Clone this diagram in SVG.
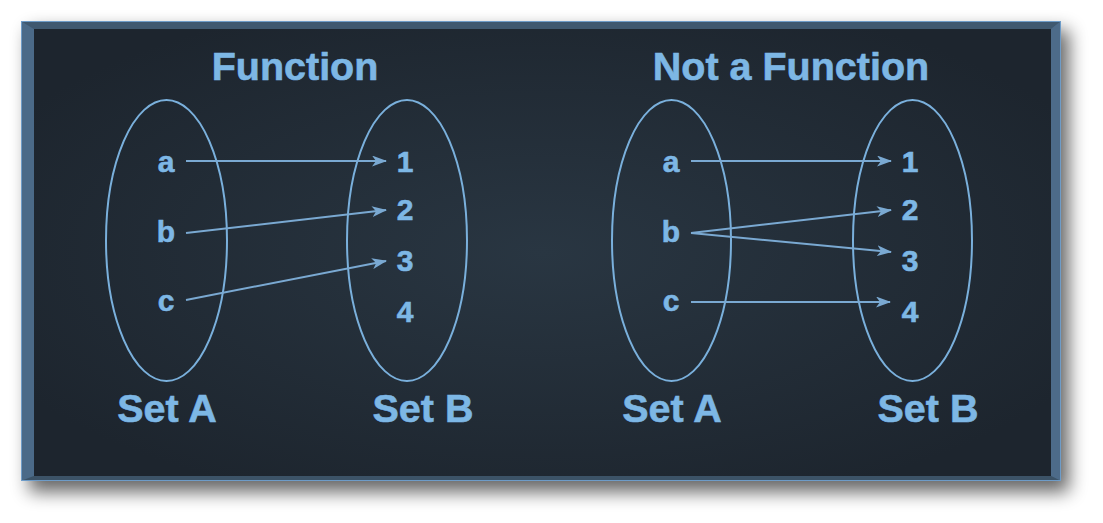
<svg xmlns="http://www.w3.org/2000/svg" width="1103" height="523" viewBox="0 0 1103 523">
<defs>
<radialGradient id="bg" cx="0.5" cy="0.5" r="0.6">
<stop offset="0" stop-color="#293642"/>
<stop offset="1" stop-color="#1d252e"/>
</radialGradient>
<filter id="sh" x="-10%" y="-20%" width="120%" height="140%">
<feGaussianBlur stdDeviation="9"/>
</filter>
<marker id="ah" viewBox="0 0 15 11" refX="14" refY="5.5" markerWidth="15" markerHeight="11" markerUnits="userSpaceOnUse" orient="auto">
<path d="M0,0 L15,5.5 L0,11 L4,5.5 Z" fill="#7aa9d2"/>
</marker>
<style>
.t{font-family:"Liberation Sans",Arial,sans-serif;font-weight:bold;fill:#7db7e5;stroke:#7db7e5;stroke-width:0.6;text-anchor:middle}
.big{font-size:39.5px}
.sm{font-size:30px}
.el{fill:none;stroke:#7ab0dc;stroke-width:2}
.cn{stroke:#7aa9d2;stroke-width:2;fill:none;marker-end:url(#ah)}
</style>
</defs>
<rect width="1103" height="523" fill="#ffffff"/>
<rect x="29" y="30" width="1040" height="462" fill="#000" opacity="0.6" filter="url(#sh)"/>
<g id="frame">
<rect x="21" y="21" width="1040" height="460" fill="#44607b"/>
<polygon points="21,21 34,29 34,476 21,481" fill="#4b6a88"/>
<polygon points="21,21 1061,21 1051,29 34,29" fill="#3f586f"/>
<polygon points="1061,21 1061,481 1051,476 1051,29" fill="#4d6b89"/>
<polygon points="21,481 34,476 1051,476 1061,481" fill="#3c5367"/>
<rect x="21.5" y="21.5" width="1039" height="459" fill="none" stroke="#6e9cc8" stroke-width="1"/>
<rect x="34" y="29" width="1017" height="447" fill="url(#bg)"/>
</g>
<g id="function">
<text class="t big" x="295" y="80">Function</text>
<g id="f-setA">
<ellipse class="el" cx="166.5" cy="240.5" rx="60.5" ry="140.5"/>
<text class="t sm" x="166" y="172">a</text>
<text class="t sm" x="166" y="242">b</text>
<text class="t sm" x="166" y="311">c</text>
<text class="t big" x="167" y="422">Set A</text>
</g>
<g id="f-setB">
<ellipse class="el" cx="407" cy="240.5" rx="60" ry="140.5"/>
<text class="t sm" x="405" y="172">1</text>
<text class="t sm" x="405" y="220">2</text>
<text class="t sm" x="405" y="271">3</text>
<text class="t sm" x="405" y="322">4</text>
<text class="t big" x="423" y="422">Set B</text>
</g>
</g>
<g id="notfunction">
<text class="t big" x="791" y="80">Not a Function</text>
<g id="n-setA">
<ellipse class="el" cx="671.5" cy="240.5" rx="59.5" ry="140.5"/>
<text class="t sm" x="671" y="172">a</text>
<text class="t sm" x="671" y="242">b</text>
<text class="t sm" x="671" y="311">c</text>
<text class="t big" x="672" y="422">Set A</text>
</g>
<g id="n-setB">
<ellipse class="el" cx="912.5" cy="240.5" rx="59.5" ry="140.5"/>
<text class="t sm" x="910" y="172">1</text>
<text class="t sm" x="910" y="220">2</text>
<text class="t sm" x="910" y="271">3</text>
<text class="t sm" x="910" y="322">4</text>
<text class="t big" x="928" y="422">Set B</text>
</g>
</g>
<g id="connectors">
<line class="cn" x1="186" y1="161" x2="386" y2="161"/>
<line class="cn" x1="186" y1="233" x2="386" y2="210"/>
<line class="cn" x1="186" y1="300" x2="386" y2="261"/>
<line class="cn" x1="691" y1="161" x2="891" y2="161"/>
<line class="cn" x1="691" y1="233" x2="891" y2="210"/>
<line class="cn" x1="691" y1="233" x2="891" y2="252"/>
<line class="cn" x1="691" y1="302" x2="890" y2="302"/>
</g>
</svg>
